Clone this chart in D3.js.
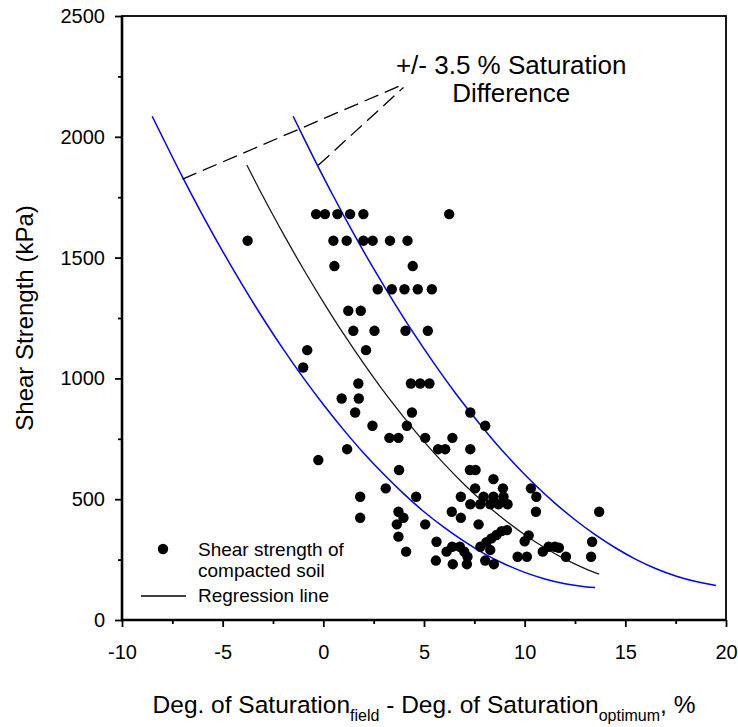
<!DOCTYPE html>
<html>
<head>
<meta charset="utf-8">
<script src="https://cdn.jsdelivr.net/npm/d3@7"></script>
<style>
body { margin: 0; background: #fff; }
text { font-family: Arial, "Liberation Sans", sans-serif; fill: #000; }
</style>
</head>
<body>
<div id="chart"></div>
<script>
// measured points: deg. of saturation difference (%) / shear strength (kPa)
var satDiff = [
  -0.36, 0.08, 0.70, 1.33, 1.99, 6.25,
  -3.76, 0.50, 1.16, 1.99, 2.45, 3.31, 4.18,
  0.55, 4.44,
  2.70, 3.40, 4.03, 4.69, 5.39,
  1.24, 1.86,
  1.49, 2.54, 4.08, 5.19,
  -0.80, 2.12,
  -1.00,
  1.74, 4.35, 4.81, 5.27,
  0.91, 1.76,
  1.58, 4.40, 7.30,
  2.44, 4.15, 8.04,
  3.28, 3.73, 5.06, 6.41,
  1.18, 5.70, 6.05, 7.30,
  -0.25,
  3.76, 7.28, 7.56,
  8.45,
  3.10, 7.54, 8.92, 10.31,
  1.83, 4.61, 6.83, 7.96, 8.45, 8.95, 10.58,
  7.30, 7.79, 8.29, 8.70, 9.15,
  3.73, 6.38, 10.56, 13.70,
  1.83, 3.98, 6.83,
  3.65, 5.06, 7.71,
  8.85, 9.12, 8.60, 10.20, 8.35, 3.73, 10.00, 8.10,
  5.62, 13.35,
  6.40, 6.78, 7.80, 11.19, 11.50, 11.70,
  8.29,
  4.11, 6.12, 7.00, 10.90,
  7.16, 9.65, 10.11, 12.05, 13.30,
  5.59, 8.04,
  6.43, 7.13, 8.47
];
var shearKpa = [
  1680, 1680, 1680, 1680, 1680, 1680,
  1570, 1570, 1570, 1570, 1570, 1570, 1570,
  1465, 1465,
  1369, 1369, 1369, 1369, 1369,
  1280, 1280,
  1197, 1197, 1197, 1197,
  1117, 1117,
  1045,
  979, 979, 979, 979,
  917, 917,
  859, 859, 859,
  804, 804, 804,
  754, 754, 754, 754,
  707, 707, 707, 707,
  662,
  621, 621, 621,
  583,
  545, 545, 545, 545,
  510, 510, 510, 510, 510, 510, 510,
  479, 479, 479, 479, 479,
  448, 448, 448, 448,
  423, 423, 423,
  396, 396, 396,
  368, 372, 352, 350, 338, 345, 326, 322,
  324, 324,
  303, 303, 303, 303, 303, 299,
  290,
  283, 283, 283, 283,
  262, 262, 262, 262, 262,
  246, 246,
  231, 231, 231
];

// regression line
var regX = [-3.8, -3, -2, -1, 0, 1, 2, 3, 4, 5, 6, 7, 8, 9, 10, 11, 12, 13, 13.7];
var regY = [1883, 1754, 1600, 1454, 1316, 1185, 1062, 946, 839, 738, 646, 561, 484, 415, 353, 299, 252, 213, 190];

// -3.5 % band (left blue line)
var lowX = [-8.5, -7, -6, -5, -4, -3, -2, -1, 0, 1, 2, 3, 4, 5, 6, 7, 8, 9, 10, 11, 12, 13, 13.5];
var lowY = [2085, 1834, 1676, 1526, 1384, 1249, 1122, 1003, 892, 788, 691, 603, 522, 448, 383, 325, 274, 232, 197, 170, 150, 138, 135];

// +3.5 % band (right blue line)
var upX = [-1.5, -0.5, 0.5, 1.5, 2.5, 3.5, 4.5, 5.5, 6.5, 7.5, 8.5, 9.5, 10.5, 11.5, 12.5, 13.5, 14.5, 15.5, 16.5, 17.5, 18.5, 19.5];
var upY = [2085, 1916, 1754, 1600, 1454, 1316, 1185, 1062, 946, 839, 738, 646, 561, 484, 415, 353, 299, 252, 213, 182, 159, 143];

// dashed leader lines (from curve to label)
var leadFrom = [[-6.99, 1825], [-0.25, 1882]];
var leadTo = [[4.06, 2220], [3.98, 2204]];

var xTicks = [-10, -5, 0, 5, 10, 15, 20];
var xMinor = [-7.5, -2.5, 2.5, 7.5, 12.5, 17.5];
var yTicks = [0, 500, 1000, 1500, 2000, 2500];
var yMinor = [250, 750, 1250, 1750, 2250];

var W = 738, H = 727;
var ml = 122, mt = 16, pw = 604, ph = 604;

var svg = d3.select("#chart").append("svg")
  .attr("width", W).attr("height", H);
var g = svg.append("g").attr("transform", "translate(" + ml + "," + mt + ")");

var x = d3.scaleLinear().domain([-10, 20]).range([0, pw]);
var y = d3.scaleLinear().domain([0, 2500]).range([ph, 0]);

// plain hyphen for negatives, like the original
var plain = function(d) { return String(d); };

// axes
var xAxis = g.append("g").attr("transform", "translate(0," + ph + ")")
  .call(d3.axisBottom(x).tickValues(xTicks).tickSize(7).tickPadding(18).tickFormat(plain));
var xAxisMinor = g.append("g").attr("transform", "translate(0," + ph + ")")
  .call(d3.axisBottom(x).tickValues(xMinor).tickSize(4).tickFormat(""));
var yAxis = g.append("g")
  .call(d3.axisLeft(y).tickValues(yTicks).tickSize(7).tickPadding(10).tickFormat(plain));
var yAxisMinor = g.append("g")
  .call(d3.axisLeft(y).tickValues(yMinor).tickSize(4).tickFormat(""));

[xAxis, xAxisMinor, yAxis, yAxisMinor].forEach(function(a) {
  a.select(".domain").remove();
  a.selectAll("line").attr("stroke", "#000").attr("stroke-width", 1.8);
  a.selectAll("text").style("font-size", "20px").attr("fill", "#000");
});
xAxis.selectAll("text").attr("dy", "0.71em");

// frame
g.append("rect").attr("width", pw).attr("height", ph)
  .attr("fill", "none").attr("stroke", "#000").attr("stroke-width", 1.8);
g.append("path").attr("d", "M0,0V" + ph + "H" + pw)
  .attr("fill", "none").attr("stroke", "#000").attr("stroke-width", 2.6);

// curves
var line = d3.line()
  .x(function(d) { return x(d[0]); })
  .y(function(d) { return y(d[1]); })
  .curve(d3.curveCatmullRom);

g.append("path").datum(d3.zip(lowX, lowY)).attr("d", line)
  .attr("fill", "none").attr("stroke", "#0000ff").attr("stroke-width", 1.5);
g.append("path").datum(d3.zip(upX, upY)).attr("d", line)
  .attr("fill", "none").attr("stroke", "#0000ff").attr("stroke-width", 1.5);
g.append("path").datum(d3.zip(regX, regY)).attr("d", line)
  .attr("fill", "none").attr("stroke", "#1a1a1a").attr("stroke-width", 1.3);

// dashed leaders
g.selectAll(".leader").data(d3.zip(leadFrom, leadTo)).enter().append("line")
  .attr("class", "leader")
  .attr("x1", function(d) { return x(d[0][0]); })
  .attr("y1", function(d) { return y(d[0][1]); })
  .attr("x2", function(d) { return x(d[1][0]); })
  .attr("y2", function(d) { return y(d[1][1]); })
  .attr("stroke", "#000").attr("stroke-width", 1.3)
  .attr("stroke-dasharray", "15,7");

// points
g.selectAll(".dot").data(d3.zip(satDiff, shearKpa)).enter().append("circle")
  .attr("class", "dot")
  .attr("r", 5.2)
  .attr("cx", function(d) { return x(d[0]); })
  .attr("cy", function(d) { return y(d[1]); })
  .attr("fill", "#000");

// annotation
var ann = g.append("text").attr("text-anchor", "middle")
  .attr("x", x(9.33)).attr("y", y(2258))
  .style("font-size", "26px");
ann.append("tspan").text("+/- 3.5 % Saturation");
ann.append("tspan").attr("x", x(9.33)).attr("dy", 28).text("Difference");

// legend
var leg = svg.append("g");
leg.append("circle").attr("cx", 163).attr("cy", 549).attr("r", 5.2).attr("fill", "#000");
leg.append("text").attr("x", 198).attr("y", 556).style("font-size", "19px").text("Shear strength of");
leg.append("text").attr("x", 198).attr("y", 577).style("font-size", "19px").text("compacted soil");
leg.append("line").attr("x1", 141).attr("x2", 186).attr("y1", 596).attr("y2", 596)
  .attr("stroke", "#000").attr("stroke-width", 1.3);
leg.append("text").attr("x", 198).attr("y", 602).style("font-size", "19px").text("Regression line");

// axis titles
svg.append("text")
  .attr("transform", "translate(33," + (mt + ph / 2) + ") rotate(-90)")
  .attr("text-anchor", "middle")
  .style("font-size", "24px")
  .text("Shear Strength (kPa)");

var xt = svg.append("text").attr("x", ml + pw / 2).attr("y", 713)
  .attr("text-anchor", "middle").style("font-size", "24.5px");
xt.append("tspan").text("Deg. of Saturation");
xt.append("tspan").attr("dy", 8).style("font-size", "16px").text("field");
xt.append("tspan").attr("dy", -8).text(" - Deg. of Saturation");
xt.append("tspan").attr("dy", 8).style("font-size", "16px").text("optimum");
xt.append("tspan").attr("dy", -8).text(", %");
</script>
</body>
</html>
